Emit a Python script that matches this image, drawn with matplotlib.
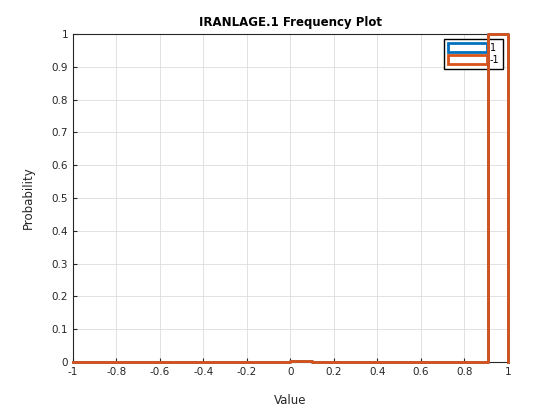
import numpy as np
import matplotlib
matplotlib.use('Agg')
from matplotlib import pyplot as plt
from matplotlib.patches import Patch

# bin edges and probabilities for each series
edges = [-1.0, 0.0, 0.1, 0.91, 1.0]
prob_pos = [0.0, 0.003, 0.0, 1.0]
prob_neg = [0.0, 0.003, 0.0, 1.0]

fig = plt.figure(figsize=(5.6, 4.2), dpi=100)
ax = fig.add_axes([0.130, 0.138, 0.777, 0.781])

def outline(e, p):
    xs = [e[0]]
    ys = [0]
    for i in range(len(p)):
        xs += [e[i], e[i + 1]]
        ys += [p[i], p[i]]
    xs.append(e[-1])
    ys.append(0)
    return xs, ys

x1, y1 = outline(edges, prob_pos)
x2, y2 = outline(edges, prob_neg)
ax.plot(x1, y1, color='#0072BD', lw=2, clip_on=False, zorder=5)
ax.plot(x2, y2, color='#D95319', lw=2, clip_on=False, zorder=6)

ax.set_xlim(-1, 1)
ax.set_ylim(0, 1)
ax.set_xticks(np.arange(-1, 1.01, 0.2))
ax.set_xticklabels(['-1', '-0.8', '-0.6', '-0.4', '-0.2', '0', '0.2', '0.4', '0.6', '0.8', '1'])
ax.set_yticks(np.arange(0, 1.01, 0.1))
ax.set_yticklabels(['0', '0.1', '0.2', '0.3', '0.4', '0.5', '0.6', '0.7', '0.8', '0.9', '1'])
ax.grid(True, color='#dddddd', lw=0.6)
ax.tick_params(labelsize=7.5, direction='in', length=3, colors='#262626')
for s in ax.spines.values():
    s.set_color('#262626')
ax.set_xlabel('Value', fontsize=8.5, color='#262626', labelpad=12)
ax.set_ylabel('Probability', fontsize=8.5, color='#262626', labelpad=12)
ax.set_title('IRANLAGE.1 Frequency Plot', fontsize=8.5, fontweight='bold')
handles = [Patch(facecolor='white', edgecolor='#0072BD', lw=2, label='1'),
           Patch(facecolor='white', edgecolor='#D95319', lw=2, label='-1')]
leg = ax.legend(handles=handles, loc='upper right', fontsize=7, fancybox=False,
                edgecolor='black', handlelength=4, handleheight=1.0,
                borderaxespad=0.5, framealpha=1, handletextpad=0.3, labelspacing=0.2)
leg.set_zorder(3)
plt.savefig('out.png')
